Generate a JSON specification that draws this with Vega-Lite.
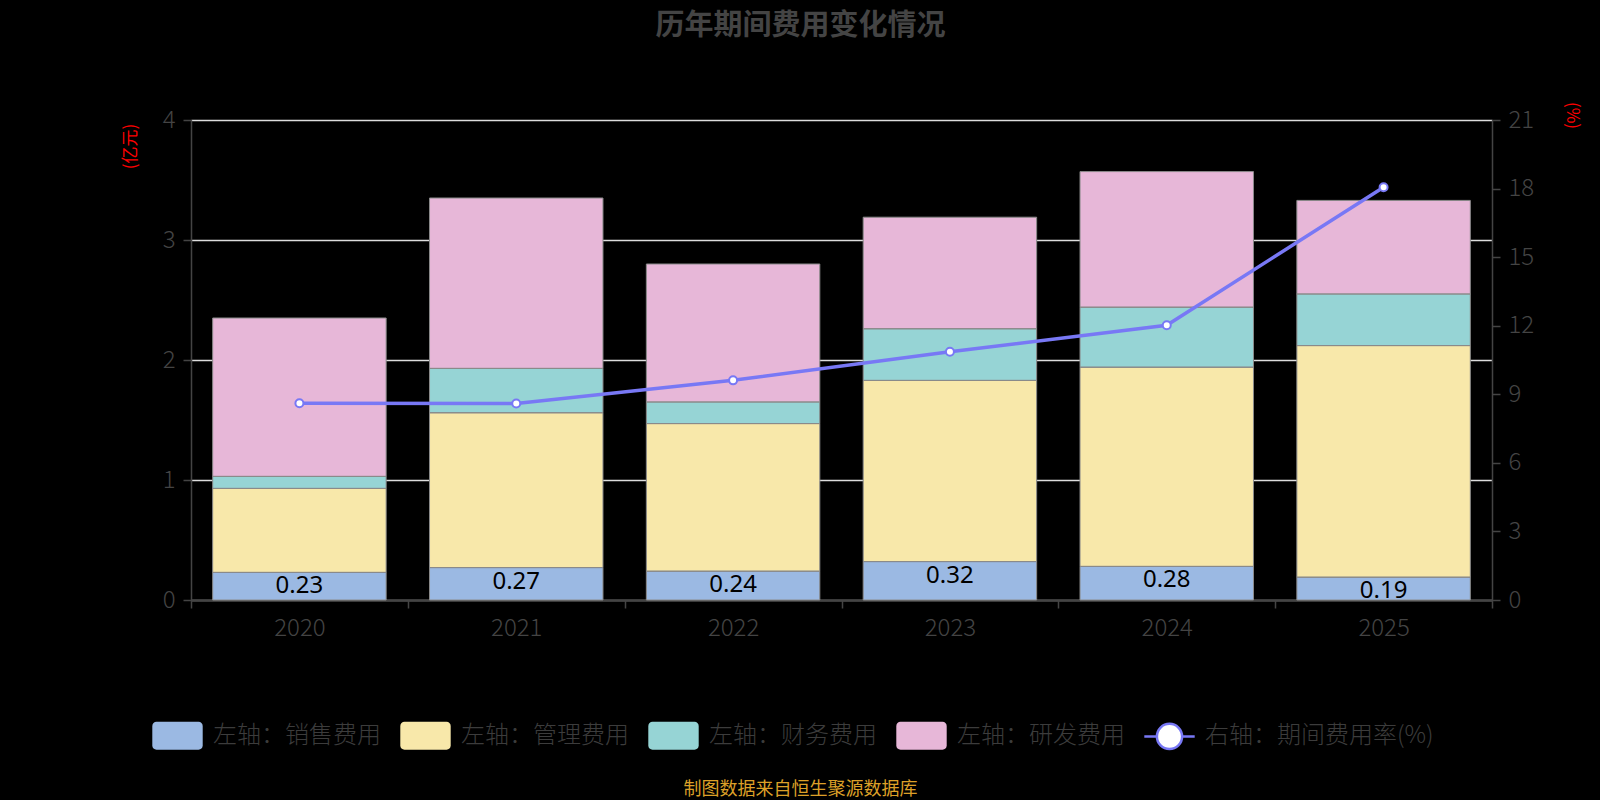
{
  "$schema": "https://vega.github.io/schema/vega-lite/v6.json",
  "width": 1301,
  "height": 480,
  "autosize": {"type": "none"},
  "padding": {"left": 191, "top": 120, "right": 108, "bottom": 200},
  "background": "#000000",
  "title": {
    "text": "历年期间费用变化情况",
    "font": "Noto Sans CJK SC",
    "fontSize": 29,
    "fontWeight": "bold",
    "color": "#444444",
    "anchor": "middle",
    "frame": "group",
    "dx": -41,
    "offset": 60
  },
  "data": {
    "values": [
      {"year": "2020", "销售费用": 0.23, "管理费用": 0.70, "财务费用": 0.10, "研发费用": 1.32, "费用率": 8.61},
      {"year": "2021", "销售费用": 0.27, "管理费用": 1.29, "财务费用": 0.37, "研发费用": 1.42, "费用率": 8.60},
      {"year": "2022", "销售费用": 0.24, "管理费用": 1.23, "财务费用": 0.18, "研发费用": 1.15, "费用率": 9.61},
      {"year": "2023", "销售费用": 0.32, "管理费用": 1.51, "财务费用": 0.43, "研发费用": 0.93, "费用率": 10.86},
      {"year": "2024", "销售费用": 0.28, "管理费用": 1.66, "财务费用": 0.50, "研发费用": 1.13, "费用率": 12.02},
      {"year": "2025", "销售费用": 0.19, "管理费用": 1.93, "财务费用": 0.43, "研发费用": 0.78, "费用率": 18.06}
    ]
  },
  "encoding": {
    "x": {
      "field": "year",
      "type": "nominal",
      "scale": {"paddingInner": 0, "paddingOuter": 0},
      "axis": {
        "title": "制图数据来自恒生聚源数据库",
        "titleColor": "#DDA028",
        "titleFont": "Noto Sans CJK SC",
        "titleFontSize": 18,
        "titleFontWeight": "normal",
        "titleX": 609,
        "titleY": 189,
        "titleAlign": "center",
        "titleBaseline": "middle",
        "labelAngle": 0,
        "labelFont": "Noto Sans CJK SC",
        "labelFontWeight": 300,
        "labelFontSize": 24,
        "labelColor": "#444444",
        "labelPadding": 8,
        "tickBand": "extent",
        "tickSize": 8,
        "tickColor": "#444444",
        "tickWidth": 1.5,
        "domainColor": "#444444",
        "domainWidth": 1.5,
        "grid": false
      }
    }
  },
  "layer": [
    {
      "layer": [
        {
          "transform": [
            {"fold": ["销售费用", "管理费用", "财务费用", "研发费用"], "as": ["type", "value"]},
            {"window": [{"op": "row_number", "as": "k"}], "groupby": ["year"]}
          ],
          "layer": [
            {
              "mark": {"type": "bar", "width": {"band": 0.8}},
              "encoding": {
                "y": {
                  "field": "value",
                  "type": "quantitative",
                  "stack": "zero",
                  "scale": {"domain": [0, 4], "nice": false},
                  "title": "(亿元)",
                  "axis": {
                    "values": [0, 1, 2, 3, 4],
                    "format": "d",
                    "grid": true,
                    "gridColor": "#dddddd",
                    "gridWidth": 1.5,
                    "domainColor": "#444444",
                    "domainWidth": 1.5,
                    "tickColor": "#444444",
                    "tickSize": 8,
                    "tickWidth": 1.5,
                    "labelFont": "Noto Sans CJK SC",
                    "labelFontWeight": 300,
                    "labelFontSize": 24,
                    "labelColor": "#444444",
                    "labelPadding": 8,
                    "titleColor": "#ff0000",
                    "titleFont": "Noto Sans CJK SC",
                    "titleFontSize": 17,
                    "titleFontWeight": "normal",
                    "titleAngle": -90,
                    "titleX": -61,
                    "titleY": 26,
                    "titleAlign": "center",
                    "titleBaseline": "middle"
                  }
                },
                "color": {
                  "field": "type",
                  "type": "nominal",
                  "scale": {
                    "domain": ["销售费用", "管理费用", "财务费用", "研发费用", "期间费用率(%)"],
                    "range": ["#9BB9E3", "#F8E8AA", "#96D4D5", "#E7B7D8", "#ffffff"]
                  },
                  "legend": {
                    "orient": "none",
                    "legendX": -38,
                    "legendY": 600,
                    "direction": "horizontal",
                    "columns": 5,
                    "title": null,
                    "padding": 0,
                    "columnPadding": 14,
                    "symbolSize": 784,
                    "symbolStrokeWidth": 2.5,
                    "symbolOffset": 9,
                    "symbolOpacity": 1,
                    "symbolType": {"expr": "datum.value === '期间费用率(%)' ? 'M-1.8,0H-0.9M0.9,0H1.8M-0.9,0A0.9,0.9 0 1 1 0.9,0A0.9,0.9 0 1 1 -0.9,0Z' : 'M-1.5,-1H1.5A0.3,0.3 0 0 1 1.8,-0.7V0.7A0.3,0.3 0 0 1 1.5,1H-1.5A0.3,0.3 0 0 1 -1.8,0.7V-0.7A0.3,0.3 0 0 1 -1.5,-1Z'"},
                    "symbolStrokeColor": {"expr": "datum.value === '期间费用率(%)' ? '#7878F5' : 'transparent'"},
                    "labelOffset": 20,
                    "labelFont": "Noto Sans CJK SC",
                    "labelFontWeight": 300,
                    "labelFontSize": 24,
                    "labelColor": "#3c3c3c",
                    "labelLimit": 400,
                    "labelExpr": "datum.label === '期间费用率(%)' ? '右轴：' + datum.label : '左轴：' + datum.label"
                  }
                },
                "order": {"field": "k", "type": "quantitative", "sort": "ascending"}
              }
            },
            {
              "mark": {"type": "bar", "width": {"band": 0.8}, "fillOpacity": 0, "stroke": "#8a8a8a", "strokeWidth": 1},
              "encoding": {
                "y": {"field": "value", "type": "quantitative", "stack": "zero", "title": "(亿元)"},
                "detail": {"field": "type"},
                "order": {"field": "k", "type": "quantitative", "sort": "ascending"}
              }
            }
          ]
        },
        {
          "mark": {"type": "text", "baseline": "top", "dy": 2, "fontSize": 24, "color": "#000000", "font": "Noto Sans"},
          "encoding": {
            "y": {"field": "销售费用", "type": "quantitative", "title": "(亿元)"},
            "text": {"field": "销售费用", "type": "quantitative", "format": ".2f"}
          }
        }
      ]
    },
    {
      "layer": [
        {
          "mark": {"type": "line", "color": "#7878F5", "strokeWidth": 3.5},
          "encoding": {
            "y": {
              "field": "费用率",
              "type": "quantitative",
              "scale": {"domain": [0, 21], "nice": false},
              "title": "(%)",
              "axis": {
                "orient": "right",
                "values": [0, 3, 6, 9, 12, 15, 18, 21],
                "grid": false,
                "domainColor": "#444444",
                "domainWidth": 1.5,
                "tickColor": "#444444",
                "tickSize": 8,
                "tickWidth": 1.5,
                "labelFont": "Noto Sans CJK SC",
                "labelFontWeight": 300,
                "labelFontSize": 24,
                "labelColor": "#444444",
                "labelPadding": 8,
                "titleColor": "#ff0000",
                "titleFont": "Noto Sans CJK SC",
                "titleFontSize": 17,
                "titleFontWeight": "normal",
                "titleAngle": 90,
                "titleX": 79,
                "titleY": -5,
                "titleAlign": "center",
                "titleBaseline": "middle"
              }
            }
          }
        },
        {
          "mark": {"type": "point", "filled": true, "fill": "#ffffff", "stroke": "#7878F5", "strokeWidth": 2, "size": 64, "opacity": 1},
          "encoding": {
            "y": {"field": "费用率", "type": "quantitative", "title": "(%)"}
          }
        }
      ]
    }
  ],
  "resolve": {"scale": {"y": "independent"}},
  "config": {
    "view": {"stroke": null}
  }
}
